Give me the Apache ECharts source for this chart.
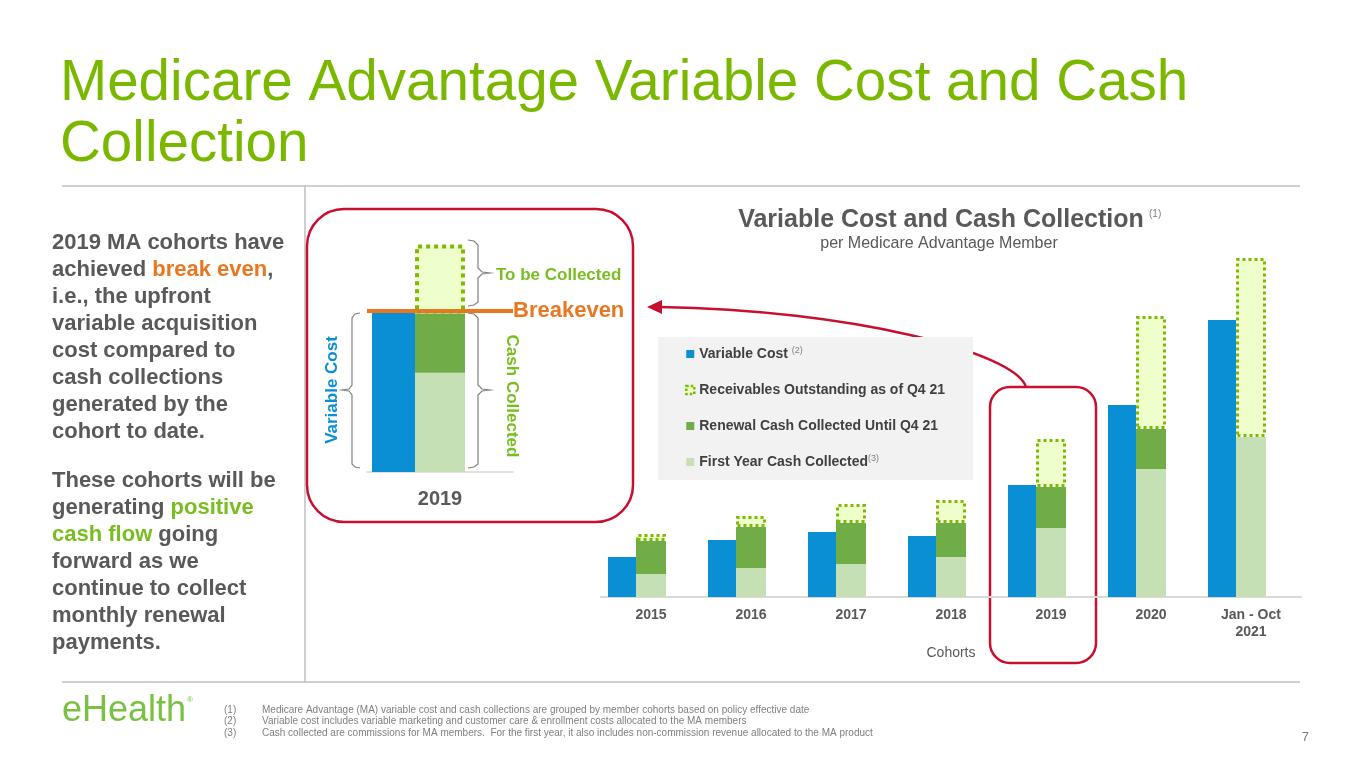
<!DOCTYPE html>
<html>
<head>
<meta charset="utf-8">
<title>Medicare Advantage Variable Cost and Cash Collection</title>
<script src="https://cdn.jsdelivr.net/npm/echarts@6/dist/echarts.min.js"></script>
<style>
  html, body { margin: 0; padding: 0; background: #fff; }
  #chart { width: 1365px; height: 768px; }
</style>
</head>
<body>
<div id="chart"></div>
<script>
// cohorts on the x axis
var categories = ['2015', '2016', '2017', '2018', '2019', '2020', 'Jan - Oct\n2021'];
// per member values
var variableCost = [40, 57, 65, 61, 112, 192, 277];
var firstYearCash = [23, 29, 33, 40, 69, 128, 160];
var renewalCash = [33, 41, 41, 34, 41, 40, 0];
var receivables = [7, 11, 19, 23, 48, 113, 179];
// cohort blown up in the call-out box
var focusCohort = '2019';

var FONT = '"Liberation Sans", Arial, sans-serif';
var BLUE = '#0B8FD4', DARK_GREEN = '#70AD47', LIGHT_GREEN = '#C5E0B4';
var LIME = '#7DBA00', LIME_FILL = '#EEFFCC';
var ORANGE = '#E87722', GREEN_TXT = '#7AB800', RED = '#C8102E', GRAY = '#595959';

var fi = categories.indexOf(focusCohort);

function txt(x, y, text, style, extra) {
  var el = { type: 'text', x: x, y: y, silent: true,
    style: Object.assign({ text: text, fontFamily: FONT, verticalAlign: 'middle' }, style) };
  return Object.assign(el, extra || {});
}
function line(x1, y1, x2, y2, color, w) {
  return { type: 'line', silent: true, shape: { x1: x1, y1: y1, x2: x2, y2: y2 },
    style: { stroke: color, lineWidth: w } };
}
function brace(pts) {
  return { type: 'polyline', silent: true, shape: { points: pts },
    style: { stroke: '#808080', lineWidth: 1.2, fill: null } };
}

var bodyStyle = { fontSize: 22, fontWeight: 'bold', fill: GRAY, lineHeight: 27, verticalAlign: 'top',
  rich: { o: { fontSize: 22, fontWeight: 'bold', fill: ORANGE, fontFamily: FONT },
          g: { fontSize: 22, fontWeight: 'bold', fill: '#78BE20', fontFamily: FONT } } };

var graphics = [
  // headline + separators
  txt(60, 54, 'Medicare Advantage Variable Cost and Cash\nCollection',
      { fontSize: 56.6, fill: GREEN_TXT, lineHeight: 61, verticalAlign: 'top' }),
  line(62, 186, 1300, 186, '#BFBFBF', 1.5),
  line(305, 186, 305, 682, '#BFBFBF', 1.5),
  line(62, 682, 1300, 682, '#BFBFBF', 1.5),
  // left commentary
  txt(52, 229, '2019 MA cohorts have\nachieved {o|break even},\ni.e., the upfront\nvariable acquisition\n' +
      'cost compared to\ncash collections\ngenerated by the\ncohort to date.', bodyStyle),
  txt(52, 467, 'These cohorts will be\ngenerating {g|positive}\n{g|cash flow} going\nforward as we\n' +
      'continue to collect\nmonthly renewal\npayments.', bodyStyle),
  // chart heading
  txt(941, 220, 'Variable Cost and Cash Collection', { fontSize: 25, fontWeight: 'bold', fill: GRAY, align: 'center' }),
  txt(1149, 214, '(1)', { fontSize: 10, fill: '#808080' }),
  txt(939, 244, 'per Medicare Advantage Member', { fontSize: 16, fill: GRAY, align: 'center' }),
  // call-out box
  { type: 'rect', silent: true, shape: { x: 307, y: 209, width: 326, height: 313, r: 37 },
    style: { stroke: RED, lineWidth: 2.5, fill: null } },
  brace([[360, 313], [355, 314], [352, 318], [352, 385], [349, 389], [342, 390], [349, 391], [352, 395], [352, 464], [355, 467], [360, 468]]),
  brace([[468, 313], [474, 314], [478, 318], [478, 385], [482, 389], [490, 390], [482, 391], [478, 395], [478, 464], [474, 467], [468, 468]]),
  brace([[468, 240], [474, 241], [478, 245], [478, 268], [482, 272], [490, 273], [482, 274], [478, 278], [478, 302], [474, 305], [468, 306]]),
  txt(332, 390, 'Variable Cost', { fontSize: 17, fontWeight: 'bold', fill: BLUE, align: 'center' }, { rotation: Math.PI / 2 }),
  txt(512, 396, 'Cash Collected', { fontSize: 17, fontWeight: 'bold', fill: '#78BE20', align: 'center' }, { rotation: -Math.PI / 2 }),
  txt(496, 275, 'To be Collected', { fontSize: 17, fontWeight: 'bold', fill: '#78BE20' }),
  // box round the 2019 cohort and arrow to the call-out
  { type: 'rect', silent: true, shape: { x: 990, y: 387, width: 106, height: 276, r: 20 },
    style: { stroke: RED, lineWidth: 2.5, fill: null } },
  { type: 'bezierCurve', silent: true,
    shape: { x1: 1026, y1: 387, cpx1: 1015, cpy1: 352, cpx2: 850, cpy2: 310, x2: 660, y2: 307 },
    style: { stroke: RED, lineWidth: 2.5, fill: null } },
  { type: 'polygon', silent: true, shape: { points: [[647, 307], [662, 300], [662, 314]] }, style: { fill: RED } },
  // footer
  txt(62, 711, 'eHealth', { fontSize: 36, fill: '#7AC143' }),
  txt(187, 700, '®', { fontSize: 8, fill: '#7AC143' }),
  txt(224, 704, '(1)\n(2)\n(3)', { fontSize: 10, fill: '#7F7F7F', lineHeight: 11.5, verticalAlign: 'top' }),
  txt(262, 704, 'Medicare Advantage (MA) variable cost and cash collections are grouped by member cohorts based on policy effective date\n' +
      'Variable cost includes variable marketing and customer care & enrollment costs allocated to the MA members\n' +
      'Cash collected are commissions for MA members.  For the first year, it also includes non-commission revenue allocated to the MA product',
      { fontSize: 10, fill: '#7F7F7F', lineHeight: 11.5, verticalAlign: 'top' }),
  txt(1309, 737, '7', { fontSize: 13, fill: '#7F7F7F', align: 'right' })
];

function barSeries(name, data, opts) {
  return Object.assign({ name: name, type: 'bar', data: data, barGap: '0%', silent: true,
    emphasis: { disabled: true } }, opts);
}

var series = [
  barSeries('Variable Cost', variableCost, { barWidth: 28, itemStyle: { color: BLUE } }),
  barSeries('First Year Cash Collected', firstYearCash, { stack: 'cash', barWidth: 30, itemStyle: { color: LIGHT_GREEN } }),
  barSeries('Renewal Cash Collected Until Q4 21', renewalCash, { stack: 'cash', barWidth: 30, itemStyle: { color: DARK_GREEN } }),
  barSeries('Receivables Outstanding as of Q4 21', receivables, { stack: 'cash', barWidth: 30,
    itemStyle: { color: LIME_FILL, borderColor: LIME, borderWidth: 3, borderType: [3, 3] } }),
  // empty slot so each cohort label sits under its cash bar
  barSeries('spacer', [], { barWidth: 28 }),

  // call-out: the focus cohort again, on its own larger scale
  barSeries('inset cost', [variableCost[fi]], { xAxisIndex: 1, yAxisIndex: 1, barWidth: 43, itemStyle: { color: BLUE },
    markLine: { silent: true, symbol: 'none', data: [{ yAxis: variableCost[fi] }],
      lineStyle: { color: ORANGE, width: 4, type: 'solid' },
      label: { position: 'end', formatter: 'Breakeven', distance: 0, color: ORANGE,
               fontSize: 22, fontWeight: 'bold', fontFamily: FONT } } }),
  barSeries('inset first', [firstYearCash[fi]], { xAxisIndex: 1, yAxisIndex: 1, stack: 'inset', barWidth: 50, itemStyle: { color: LIGHT_GREEN } }),
  barSeries('inset renewal', [renewalCash[fi]], { xAxisIndex: 1, yAxisIndex: 1, stack: 'inset', barWidth: 50, itemStyle: { color: DARK_GREEN } }),
  barSeries('inset receivable', [receivables[fi]], { xAxisIndex: 1, yAxisIndex: 1, stack: 'inset', barWidth: 50,
    itemStyle: { color: LIME_FILL, borderColor: LIME, borderWidth: 4, borderType: [4, 4] } }),
  barSeries('inset spacer', [], { xAxisIndex: 1, yAxisIndex: 1, barWidth: 43 })
];

var option = {
  animation: false,
  textStyle: { fontFamily: FONT },
  grid: [
    { left: 601, right: 64, top: 247, bottom: 171 },
    { left: 367, right: 852, top: 220, bottom: 296 }
  ],
  xAxis: [
    { type: 'category', gridIndex: 0, data: categories,
      axisLine: { lineStyle: { color: '#D9D9D9', width: 2 } }, axisTick: { show: false },
      axisLabel: { fontSize: 14, fontWeight: 'bold', color: GRAY, lineHeight: 17, margin: 10 },
      name: 'Cohorts', nameLocation: 'middle', nameGap: 49,
      nameTextStyle: { fontSize: 14, color: GRAY } },
    { type: 'category', gridIndex: 1, data: [focusCohort],
      axisLine: { lineStyle: { color: '#D9D9D9', width: 1.5 } }, axisTick: { show: false },
      axisLabel: { fontSize: 20, fontWeight: 'bold', color: GRAY, lineHeight: 22, margin: 16 } }
  ],
  yAxis: [
    { type: 'value', gridIndex: 0, min: 0, max: 350, show: false },
    { type: 'value', gridIndex: 1, min: 0, max: 175, show: false }
  ],
  legend: {
    data: [
      { name: 'Variable Cost' },
      { name: 'Receivables Outstanding as of Q4 21', itemStyle: { borderWidth: 2.5, borderType: [2.5, 2] } },
      { name: 'Renewal Cash Collected Until Q4 21' },
      { name: 'First Year Cash Collected' }
    ],
    orient: 'vertical', left: 658, top: 337, selectedMode: false,
    backgroundColor: '#F2F2F2', padding: [9, 28, 10, 27],
    icon: 'rect', itemWidth: 8, itemHeight: 8, itemGap: 20,
    textStyle: { fontSize: 14, fontWeight: 'bold', color: '#404040', lineHeight: 16,
      rich: { sup: { fontSize: 9, color: '#808080', fontWeight: 'normal', verticalAlign: 'top', lineHeight: 9 } } },
    formatter: function (name) {
      if (name === 'Variable Cost') return name + ' {sup|(2)}';
      if (name === 'First Year Cash Collected') return name + '{sup|(3)}';
      return name;
    }
  },
  series: series,
  graphic: graphics
};

var myChart = echarts.init(document.getElementById('chart'));
myChart.setOption(option);
</script>
</body>
</html>
